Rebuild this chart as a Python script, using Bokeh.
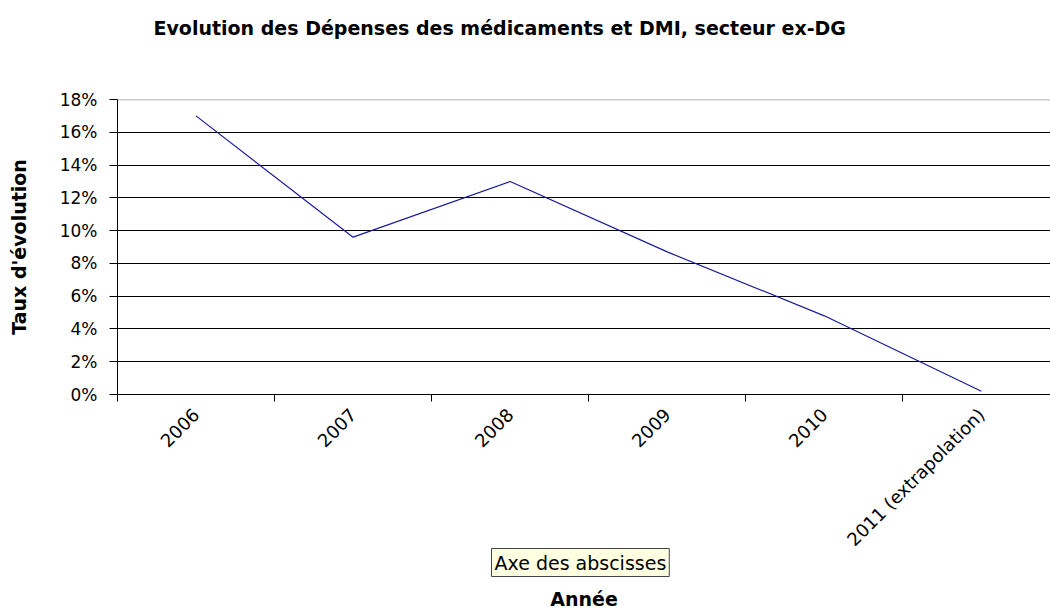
import math
from bokeh.plotting import figure
from bokeh.models import (Range1d, FixedTicker, NumeralTickFormatter, Span, Title, ColumnDataSource)
from bokeh.embed import file_html
from bokeh.resources import INLINE

# ---- data ----
years = ["2006", "2007", "2008", "2009", "2010", "2011 (extrapolation)"]
rates = [0.170, 0.096, 0.130, 0.087, 0.048, 0.002]
y_ticks = [0.00, 0.02, 0.04, 0.06, 0.08, 0.10, 0.12, 0.14, 0.16, 0.18]

title_text = "Evolution des Dépenses des médicaments et DMI, secteur ex-DG"
y_title = "Taux d'évolution"
x_title = "Année"
tooltip_text = "Axe des abscisses"

FONT = "DejaVu Sans"

xs = [i + 0.5 for i in range(len(years))]
src = ColumnDataSource(data=dict(x=xs, y=rates, year=years))

W, H = 1050, 615
p = figure(width=W, height=H, output_backend="svg", toolbar_location=None,
           x_range=Range1d(0, 5.94), y_range=Range1d(0, 0.18),
           min_border_left=117, min_border_right=0, min_border_top=99, min_border_bottom=221,
           background_fill_color="white", border_fill_color="white")
p.outline_line_color = None

# spacer between title and plot area (innermost "above" panel)
p.add_layout(Title(text=" ", text_font_size="2px", standoff=57), "above")

p.title.text = title_text
p.title.text_font = FONT
p.title.text_font_size = "19px"
p.title.text_font_style = "bold"
p.title.text_color = "black"
p.title.align = "left"
p.title.offset = 36
p.title.vertical_align = "bottom"
p.title.standoff = 0

# y axis
p.yaxis.ticker = FixedTicker(ticks=y_ticks)
p.yaxis.formatter = NumeralTickFormatter(format="0%")
p.yaxis.major_label_text_font = FONT
p.yaxis.major_label_text_font_size = "17px"
p.yaxis.major_label_text_color = "black"
p.yaxis.major_tick_out = 8
p.yaxis.major_tick_in = 0
p.yaxis.minor_tick_line_color = None
p.yaxis.major_label_standoff = 12
p.yaxis.axis_line_color = "black"
p.yaxis.major_tick_line_color = "black"
p.yaxis.axis_label = y_title
p.yaxis.axis_label_text_font = FONT
p.yaxis.axis_label_text_font_size = "19px"
p.yaxis.axis_label_text_font_style = "bold"
p.yaxis.axis_label_text_color = "black"
p.yaxis.axis_label_standoff = 27

# x axis
p.xaxis.ticker = FixedTicker(ticks=xs, minor_ticks=list(range(len(years))))
p.xaxis.major_label_overrides = {x: y for x, y in zip(xs, years)}
p.xaxis.major_tick_line_color = None
p.xaxis.minor_tick_line_color = "black"
p.xaxis.minor_tick_out = 7
p.xaxis.minor_tick_in = 0
p.xaxis.major_label_orientation = math.pi / 4
p.xaxis.major_label_text_font = FONT
p.xaxis.major_label_text_font_size = "18px"
p.xaxis.major_label_text_color = "black"
p.xaxis.major_label_standoff = 10
p.xaxis.axis_line_color = "black"

tip = Title(text=tooltip_text, text_font=FONT, text_font_size="19px", text_font_style="normal",
            text_color="black", background_fill_color="#FFFFE1", border_line_color="#444444",
            align="left", offset=374, standoff=-24, padding=3, vertical_align="top")
p.add_layout(tip, "below")
# spacer between the tooltip box and the axis title
p.add_layout(Title(text=" ", text_font_size="2px", standoff=14), "below")
annee = Title(text=x_title, text_font=FONT, text_font_size="19px", text_font_style="bold",
              text_color="black", align="center", standoff=2, vertical_align="bottom")
p.add_layout(annee, "below")

# grid
p.xgrid.grid_line_color = None
p.ygrid.ticker = FixedTicker(ticks=y_ticks[1:-1])
p.ygrid.grid_line_color = "black"
p.ygrid.grid_line_width = 1
p.add_layout(Span(location=y_ticks[-1], dimension="width", line_color="#999999", line_width=1.5))

p.line("x", "y", source=src, line_color="#1a1a99", line_width=1.2)

open("out.html", "w").write(file_html(p, INLINE))
